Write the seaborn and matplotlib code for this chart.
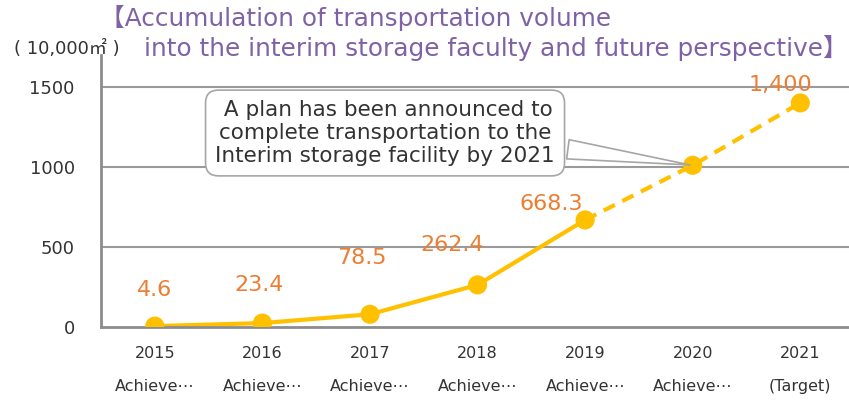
import matplotlib
matplotlib.use("Agg")
import matplotlib.pyplot as plt
import seaborn as sns
import pandas as pd

# =========================
# DATA
# =========================

years = ["2015", "2016", "2017", "2018", "2019", "2020", "2021"]
status = ["Achieve\u22ef", "Achieve\u22ef", "Achieve\u22ef", "Achieve\u22ef",
          "Achieve\u22ef", "Achieve\u22ef", "(Target)"]
volume = [4.6, 23.4, 78.5, 262.4, 668.3, 1010, 1400]
value_labels = ["4.6", "23.4", "78.5", "262.4", "668.3", "", "1,400"]
y_ticks = [0, 500, 1000, 1500]

df = pd.DataFrame({"pos": range(len(years)), "volume": volume})
actual = df.iloc[:5]
plan = df.iloc[4:]

# =========================
# STYLE
# =========================

sns.set_theme(style="white")
plt.rcParams["font.family"] = ["DejaVu Sans", "Noto Sans CJK JP"]

line_color = "#FFC000"
label_color = "#ED7D31"
title_color = "#7F62A6"
axis_color = "#8C8C8C"

fig = plt.figure(figsize=(8.49, 4.04), dpi=100)
ax = fig.add_axes([0.119, 0.191, 0.887, 0.673])

sns.lineplot(data=actual, x="pos", y="volume", color=line_color,
             linewidth=3, ax=ax)
sns.lineplot(data=plan, x="pos", y="volume", color=line_color,
             linewidth=3, linestyle=(0, (3, 2)), ax=ax)
sns.scatterplot(data=df, x="pos", y="volume", color=line_color, s=190,
                edgecolor="none", zorder=5, ax=ax)

# value labels (offsets in pixels from the point)
label_dx = [0, -3, -8, -25, -34, 0, -20]
label_dy = [36, 38, 56, 40, 16, 0, 18]
for i, txt in enumerate(value_labels):
    if txt:
        ax.annotate(txt, (i, volume[i]), xytext=(label_dx[i], label_dy[i]),
                    textcoords="offset pixels", ha="center", va="center",
                    fontsize=16, color=label_color, zorder=7)

# =========================
# AXES
# =========================

ax.set_xlim(-0.5, 6.5)
ax.set_ylim(0, 1700)
ax.set_yticks(y_ticks)
ax.set_yticklabels([str(t) for t in y_ticks], fontsize=13, color="#333333")
ax.set_xticks(range(len(years)))
ax.set_xticklabels([f"{y}\n\n{s}" for y, s in zip(years, status)],
                   fontsize=11.5, color="#333333", linespacing=1.1)
ax.set_xticks([i + 0.5 for i in range(len(years) - 1)], minor=True)
ax.tick_params(axis="x", which="major", length=0, pad=14)
ax.tick_params(axis="x", which="minor", length=8, width=1.5,
               color=axis_color, direction="out")
ax.tick_params(axis="y", length=10, width=1.5, color=axis_color,
               direction="inout", pad=14)
ax.set_xlabel("")
ax.set_ylabel("")

for y in y_ticks[1:]:
    ax.axhline(y, color="#9A9A9A", linewidth=1.5, zorder=0)

for side in ["top", "right"]:
    ax.spines[side].set_visible(False)
for side in ["left", "bottom"]:
    ax.spines[side].set_color(axis_color)
    ax.spines[side].set_linewidth(2)

# =========================
# CALLOUT
# =========================

ax.annotate(" A plan has been announced to\ncomplete transportation to the\nInterim storage facility by 2021",
            xy=(5, volume[5]), xytext=(2.14, 1212),
            ha="center", va="center", fontsize=15.5, color="#333333",
            linespacing=1.2,
            bbox=dict(boxstyle="round,pad=0.45,rounding_size=0.6",
                      fc="white", ec="#A6A6A6", lw=1.2),
            arrowprops=dict(arrowstyle="wedge,tail_width=0.9,shrink_factor=0.5",
                            fc="white", ec="#A6A6A6", lw=1.2,
                            relpos=(1.0, 0.28)),
            zorder=6)

# =========================
# TITLES
# =========================

fig.text(0.118, 0.955, "\u3010Accumulation of transportation volume",
         fontsize=17.8, color=title_color, ha="left", va="center")
fig.text(0.998, 0.88, "into the interim storage faculty and future perspective\u3011",
         fontsize=17.8, color=title_color, ha="right", va="center")
fig.text(0.016, 0.878, "( 10,000\u33a1 )", fontsize=13, color="#333333",
         ha="left", va="center")

plt.savefig("out.png", dpi=100)
